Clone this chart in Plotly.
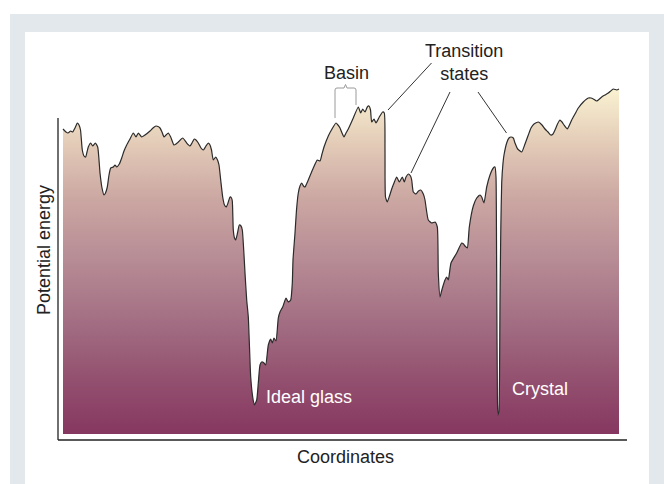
import plotly.graph_objects as go

# Configuration coordinate (arbitrary units) and potential energy (arbitrary units)
coordinate = [
    0, 3, 5, 7.7, 9.7, 12, 14.3, 16, 17.5, 19.3, 21, 22.7, 24, 25.3, 27.7, 29.7, 32.3, 34.7,
    37, 39, 41, 42.5, 44.3, 46, 47.7, 50.3, 52, 53.7, 56.3, 58.7, 61, 63.7, 67, 70.3, 73, 75.3,
    78.7, 82, 87, 90, 93, 95, 97, 99, 101, 103, 105.3, 107.7, 111, 113, 115.3, 119.7, 123.7, 127,
    129, 131.3, 133, 135.3, 138, 140.3, 143, 145.3, 147, 148.5, 150.3, 152.7, 154.5, 156, 157.7,
    159.7, 161.5, 163.3, 165, 167, 168.5, 169.3, 170.3, 171.5, 172.7, 174.5, 176.3, 178, 179.3,
    181, 182, 183.7, 185.3, 187.7, 189.7, 191.3, 193.7, 195.3, 197, 198.7, 201, 202.7, 205.3,
    207.7, 209.3, 211, 213, 215.3, 217, 219.7, 223, 225.3, 227.7, 229.3, 230, 232, 233.5, 235.3,
    237, 238.7, 240.5, 242, 243.5, 245.3, 250.3, 254.3, 257, 259, 261, 265.3, 269, 273, 275, 277,
    279, 281, 283, 285.3, 290.3, 295.3, 297.7, 299.7, 302, 304.3, 306, 307.5, 308.7, 311, 313,
    316.3, 319.7, 321.3, 322, 322.5, 324.3, 326.5, 328.7, 331, 333.7, 336.3, 339.3, 341.3, 343,
    345.3, 347.5, 348.7, 350.3, 353, 355.5, 357.7, 360.3, 362, 363, 365.3, 368.7, 372, 374.3,
    375.3, 377, 378.3, 379.7, 382, 383.7, 385.3, 388, 393.7, 398.7, 400.5, 402, 404.3, 406.3,
    410.3, 413.7, 417, 418.7, 421, 423.7, 427, 430.3, 432, 433, 433.5, 433.8, 434.3, 434.8, 435.8,
    436.5, 437, 437.8, 438.7, 440, 441, 443.7, 446, 448, 450.3, 452, 454.7, 458.7, 462, 465.3,
    468, 471, 475.3, 479, 482, 485, 487.7, 490, 492, 494.5, 497, 499, 501, 504.3, 506, 508.7,
    512, 515.3, 520.3, 525.3, 528, 530.3, 533.7, 538.7, 542, 545.3, 550.3, 553.7, 556,
]
energy = [
    305, 302, 301, 303, 302, 306, 311, 309, 304, 284, 278, 277, 282, 287, 291, 288, 291, 287,
    261, 246, 239, 241, 247, 259, 266, 267, 269, 267, 270, 276, 283, 289, 295, 301, 297, 301,
    297, 299, 303, 306, 308, 307.5, 306, 302, 297, 299, 301, 297, 289, 290, 292, 296, 291, 288,
    291, 295, 294, 291, 286, 284, 288, 291, 289, 284, 274, 277, 274, 269, 254,
    237, 229, 227, 231, 237, 236, 233, 204, 196, 194, 201, 209, 208, 204,
    179, 161, 134, 117, 57, 37, 29, 34, 51, 69, 72, 71, 69, 89,
    95, 91, 96, 93, 116, 122, 127, 136, 132, 134, 151, 174, 201, 224, 241,
    248, 251, 248, 247, 250, 254, 266, 274, 273, 280, 287, 298, 305, 311, 309, 306,
    301, 297, 301, 305, 316, 327, 321, 325, 322, 327, 328, 324, 312, 315, 311,
    317, 322, 321, 284, 237, 232, 238, 245, 251, 257, 252, 257, 252, 257,
    260, 258, 254, 242, 240, 243, 244, 240, 234, 227, 214, 211, 212, 207,
    161, 137, 142, 147, 154, 157, 154, 171, 181, 191, 190, 188, 186, 207,
    228, 236, 239, 237, 231, 247, 259, 266, 267, 257, 194, 134, 54, 19, 22,
    54, 134, 204, 251, 271, 279, 291, 296, 297, 296, 291, 285, 282, 290, 299,
    306, 310, 312, 309, 305, 302, 299, 300, 304, 310, 314, 312, 309, 305, 308, 314,
    320, 326, 332, 336, 336, 335, 333, 337, 339, 341, 345, 344, 345,
]

# Gradient colours (bottom -> top of the landscape)
gradient_stops = [0.0, 0.157, 0.30, 0.50, 0.68, 0.85, 1.0]
gradient_colors = ["#863760", "#93506f", "#a06a80", "#b68b95", "#cba7a2", "#e4cdb9", "#f9f2d1"]

labels = {
    "basin": "Basin",
    "ts": "Transition<br>states",
    "glass": "Ideal glass",
    "crystal": "Crystal",
    "xtitle": "Coordinates",
    "ytitle": "Potential energy",
}

FONT = "Liberation Sans, Arial, Helvetica, sans-serif"

fig = go.Figure()
fig.add_trace(go.Scatter(
    x=coordinate, y=energy, mode="lines",
    line=dict(color="#2b2b2b", width=1.2, shape="spline", smoothing=0.5),
    fill="tozeroy",
    fillgradient=dict(
        type="vertical",
        colorscale=[[s, c] for s, c in zip(gradient_stops, gradient_colors)],
        start=0, stop=max(energy),
    ),
    hoverinfo="skip", showlegend=False,
))

shapes = [
    # outer grey frame and inner white panel
    dict(type="rect", xref="paper", yref="paper", x0=10 / 664, x1=1, y0=0, y1=1 - 14 / 484,
         fillcolor="#e3e8ec", line=dict(width=0), layer="below"),
    dict(type="rect", xref="paper", yref="paper", x0=25 / 664, x1=649 / 664, y0=0, y1=1 - 32 / 484,
         fillcolor="white", line=dict(width=0), layer="below"),
    # axis lines
    dict(type="line", xref="x", yref="y", x0=-5, x1=-5, y0=-6, y1=316,
         line=dict(color="#222", width=1.3)),
    dict(type="line", xref="x", yref="y", x0=-5, x1=564, y0=-6, y1=-6,
         line=dict(color="#222", width=1.3)),
    # transition-state leader lines
    dict(type="line", xref="x", yref="y", x0=368.5, y0=371, x1=325, y1=324,
         line=dict(color="#333", width=1)),
    dict(type="line", xref="x", yref="y", x0=387, y0=342, x1=348, y1=261,
         line=dict(color="#333", width=1)),
    dict(type="line", xref="x", yref="y", x0=415, y0=342, x1=443.5, y1=301,
         line=dict(color="#333", width=1)),
    # basin brace
    dict(type="path", xref="x", yref="y",
         path="M 272,316 L 272,344 Q 272,346 274,346 L 281,346 L 282.5,349.5 L 284,346 "
              "L 291,346 Q 293,346 293,344 L 293,329",
         line=dict(color="#9a9a9a", width=1)),
]

annotations = [
    dict(x=283, y=361, text=labels["basin"], font=dict(size=18, color="#222", family=FONT)),
    dict(x=401, y=372, text=labels["ts"], font=dict(size=18, color="#222", family=FONT)),
    dict(x=246, y=37, text=labels["glass"], font=dict(size=18, color="white", family=FONT)),
    dict(x=477, y=45, text=labels["crystal"], font=dict(size=18, color="white", family=FONT)),
    dict(x=282, y=-23, text=labels["xtitle"], font=dict(size=18, color="#222", family=FONT)),
    dict(x=-19, y=184, text=labels["ytitle"], textangle=-90,
         font=dict(size=18, color="#222", family=FONT)),
]
for a in annotations:
    a.update(xref="x", yref="y", showarrow=False, xanchor="center", yanchor="middle")

fig.update_layout(
    width=664, height=484, autosize=False,
    margin=dict(l=0, r=0, t=0, b=0, pad=0),
    paper_bgcolor="white", plot_bgcolor="rgba(0,0,0,0)",
    xaxis=dict(range=[-63, 601], visible=False, fixedrange=True),
    yaxis=dict(range=[-50, 434], visible=False, fixedrange=True),
    shapes=shapes, annotations=annotations,
    showlegend=False,
)

fig.write_html(
    "out.html",
    config={"displayModeBar": False},
    post_script="document.body.style.margin='0';document.body.style.overflow='hidden';",
)
